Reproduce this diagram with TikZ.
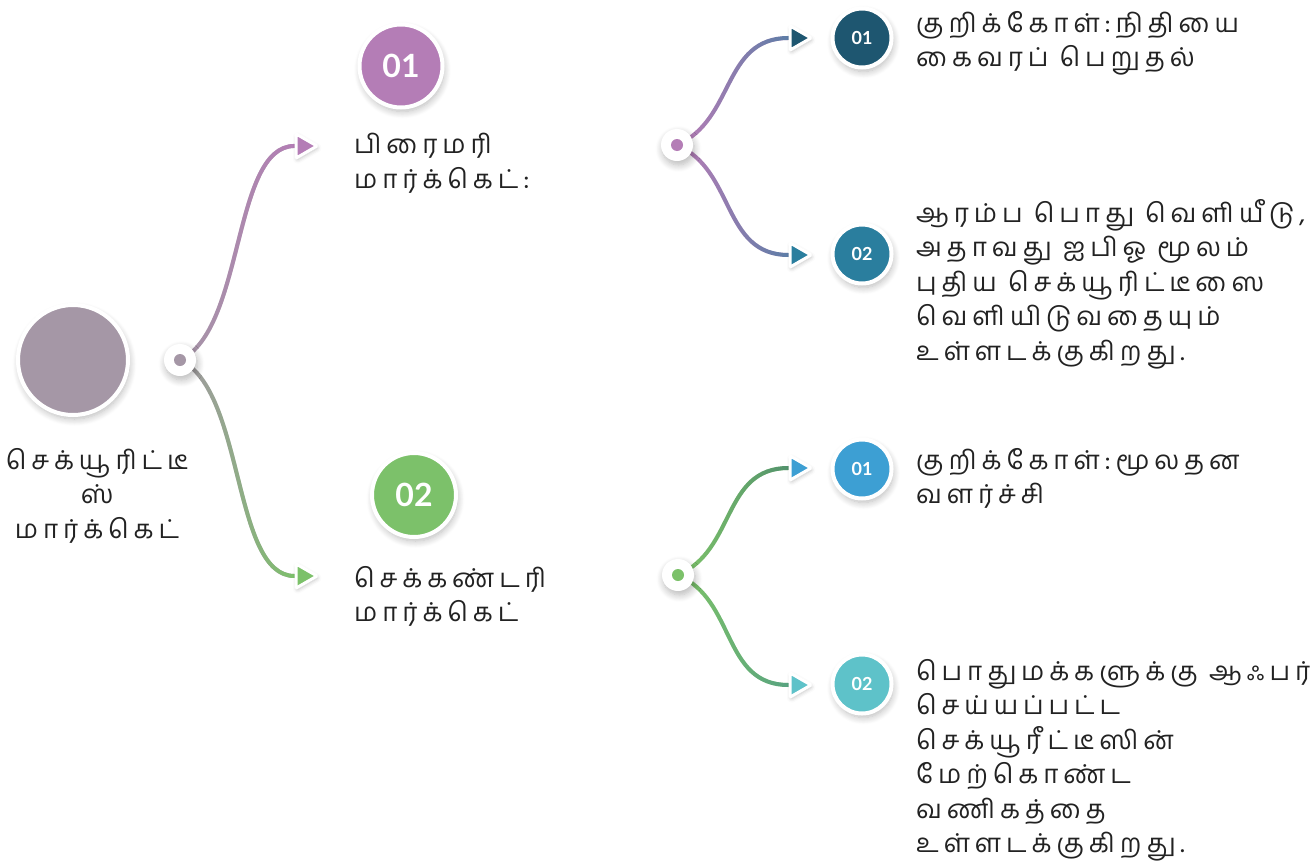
\documentclass[tikz,border=0pt]{standalone}
\usepackage{fontspec}
\newfontfamily\tamil[Script=Tamil,LetterSpace=19]{Hind Madurai}
\newfontfamily\numfont{Lato}
\usetikzlibrary{fadings,shadows.blur,shapes.geometric}
\definecolor{cgray}{HTML}{A597A6}
\definecolor{cpurple}{HTML}{B47DB6}
\definecolor{cgreen}{HTML}{7CC16A}
\definecolor{cdteal}{HTML}{1E5670}
\definecolor{cteal}{HTML}{2A7E9E}
\definecolor{cblue}{HTML}{3D9FD3}
\definecolor{caqua}{HTML}{5EC2C9}
\definecolor{ctext}{HTML}{222222}
\tikzfading[name=fadeR, left color=transparent!100, right color=transparent!0]
\begin{tikzfadingfrompicture}[name=fadeLate]
  \fill[transparent!100] (-50bp,-50bp) rectangle (50bp,50bp);
  \shade[left color=transparent!100, right color=transparent!0] (-20bp,-50bp) rectangle (50bp,50bp);
\end{tikzfadingfrompicture}
\pgfdeclarelayer{bg}
\pgfsetlayers{bg,main}
\newcommand\gradcurve[4]{%
  \draw[curve,#1] #4;
  \draw[curve,#2,path fading=#3] #4;}
\tikzset{
  softshadow/.style={blur shadow={shadow xshift=1.5pt, shadow yshift=-4pt, shadow blur radius=7pt, shadow opacity=28, shadow blur steps=10}},
  ring/.style={circle, draw=white, line width=#1, inner sep=0pt, softshadow},
  num/.style={text=white, font=\numfont\bfseries\fontsize{#1}{#1}\selectfont},
  hub/.style={circle, fill=white, minimum size=32pt, inner sep=0pt, softshadow,
    path picture={\fill[#1] (path picture bounding box.center) circle (6pt);}},
  tri/.style={regular polygon, regular polygon sides=3, shape border rotate=-90,
    draw=white, line width=3pt, minimum size=28pt, inner sep=0pt, rounded corners=1pt,
    blur shadow={shadow xshift=1pt, shadow yshift=-2pt, shadow blur radius=4pt, shadow opacity=25}},
  curve/.style={line width=4pt, line cap=round},
  lbl/.style={font=\tamil\fontsize{26}{34.5}\selectfont, text=ctext, inner sep=0pt, align=left, anchor=north west},
}
\begin{document}
\begin{tikzpicture}[x=1pt,y=-1pt]
\useasboundingbox (0,0) rectangle (1311,865);
% root
\node[ring=4pt, fill=cgray, minimum size=110pt] (root) at (73,360) {};
\node[lbl, align=center, anchor=north] (rootlbl) at (97,448) {செக்யூரிட்டீ\\ஸ்\\மார்க்கெட்};
\node[hub=cgray] (h1) at (180,360) {};
% level 1
\node[tri, fill=cpurple] (a1) at (303,146) {};
\node[tri, fill=cgreen] (a2) at (303,576) {};
\node[ring=4pt, fill=cpurple, minimum size=83pt, num=32] (n1) at (401,66) {01};
\node[ring=4pt, fill=cgreen, minimum size=84pt, num=32] (n2) at (414,495) {02};
\node[lbl] (l1) at (354,133) {பிரைமரி\\மார்க்கெட்:};
\node[lbl] (l2) at (354,566) {செக்கண்டரி\\மார்க்கெட்};
% level 2 hubs
\node[hub=cpurple] (h2) at (677,145) {};
\node[hub=cgreen] (h3) at (678,575) {};
\node[tri, fill=cdteal] (b1) at (797,38) {};
\node[tri, fill=cteal] (b2) at (797,255) {};
\node[tri, fill=cblue] (b3) at (797,468) {};
\node[tri, fill=caqua] (b4) at (797,685) {};
\node[ring=4pt, fill=cdteal, minimum size=59pt, num=18] (m1) at (862,38) {01};
\node[ring=4pt, fill=cteal, minimum size=59pt, num=18] (m2) at (862,254) {02};
\node[ring=4pt, fill=cblue, minimum size=59pt, num=18] (m3) at (862,469) {01};
\node[ring=4pt, fill=caqua, minimum size=59pt, num=18] (m4) at (862,684) {02};
\node[lbl] (r1) at (916,11) {குறிக்கோள்:நிதியை\\கைவரப் பெறுதல்};
\node[lbl] (r2) at (916,199) {ஆரம்ப பொது வெளியீடு,\\அதாவது ஐபிஓ மூலம்\\புதிய செக்யூரிட்டீஸை\\வெளியிடுவதையும்\\உள்ளடக்குகிறது.};
\node[lbl] (r3) at (916,448) {குறிக்கோள்:மூலதன\\வளர்ச்சி};
\node[lbl] (r4) at (916,659) {பொதுமக்களுக்கு ஆஃபர்\\செய்யப்பட்ட\\செக்யூரீட்டீஸின்\\மேற்கொண்ட\\வணிகத்தை\\உள்ளடக்குகிறது.};
% connectors
\begin{pgfonlayer}{bg}
\gradcurve{cgray}{cpurple}{fadeR}{(h1.center) .. controls (245,330) and (232,146) .. (a1.west)}
\gradcurve{cgray}{cgreen}{fadeR}{(h1.center) .. controls (245,390) and (232,576) .. (a2.west)}
\gradcurve{cpurple}{cteal}{fadeLate}{(h2.center) .. controls (735,120) and (722,38) .. (b1.west)}
\gradcurve{cpurple}{cteal}{fadeLate}{(h2.center) .. controls (735,170) and (722,255) .. (b2.west)}
\gradcurve{cgreen}{cdteal!70!cgreen}{fadeLate}{(h3.center) .. controls (736,550) and (722,468) .. (b3.west)}
\gradcurve{cgreen}{cteal!70!cgreen}{fadeLate}{(h3.center) .. controls (736,600) and (722,685) .. (b4.west)}
\end{pgfonlayer}
\end{tikzpicture}
\end{document}
